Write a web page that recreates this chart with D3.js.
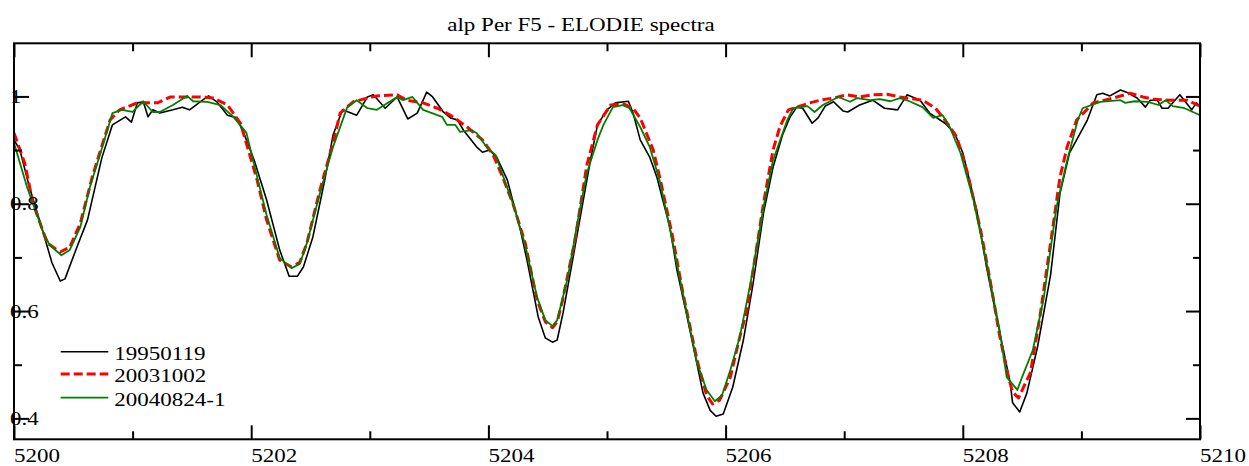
<!DOCTYPE html>
<html>
<head>
<meta charset="utf-8">
<script src="https://cdn.jsdelivr.net/npm/d3@7"></script>
<style>
  html, body { margin: 0; padding: 0; background: #fff; }
  svg { display: block; }
  text { font-family: "Liberation Serif", "Times New Roman", serif; font-size: 23px; fill: #000; }
</style>
</head>
<body>
<div id="chart"></div>
<script>
// Spectra: [wavelength (A), normalised flux]
const spec19950119 = [
  [5200.00,0.919],[5200.05,0.900],[5200.13,0.831],[5200.24,0.751],[5200.32,0.690],[5200.39,0.656],
  [5200.43,0.660],[5200.53,0.719],[5200.62,0.770],[5200.74,0.885],[5200.83,0.947],[5200.94,0.962],
  [5200.99,0.952],[5201.04,0.988],[5201.09,0.990],[5201.13,0.962],[5201.17,0.975],[5201.23,0.969],
  [5201.34,0.975],[5201.42,0.980],[5201.48,0.975],[5201.57,0.990],[5201.64,1.001],[5201.71,0.990],
  [5201.80,0.965],[5201.88,0.960],[5201.96,0.919],[5202.03,0.878],[5202.13,0.807],[5202.24,0.714],
  [5202.32,0.665],[5202.39,0.665],[5202.44,0.682],[5202.52,0.738],[5202.62,0.844],[5202.69,0.928],
  [5202.77,0.975],[5202.89,0.965],[5202.98,0.999],[5203.03,1.003],[5203.13,0.978],[5203.23,0.999],
  [5203.32,0.958],[5203.40,0.969],[5203.48,1.008],[5203.53,0.999],[5203.62,0.971],[5203.68,0.960],
  [5203.74,0.956],[5203.79,0.937],[5203.90,0.906],[5203.95,0.896],[5204.01,0.900],[5204.07,0.887],
  [5204.16,0.844],[5204.27,0.751],[5204.33,0.690],[5204.42,0.589],[5204.48,0.550],[5204.54,0.542],
  [5204.58,0.546],[5204.63,0.597],[5204.71,0.695],[5204.79,0.794],[5204.86,0.881],[5204.92,0.947],
  [5205.00,0.975],[5205.07,0.988],[5205.18,0.991],[5205.22,0.969],[5205.28,0.919],[5205.36,0.887],
  [5205.42,0.850],[5205.47,0.807],[5205.53,0.757],[5205.59,0.676],[5205.67,0.595],[5205.81,0.447],
  [5205.87,0.415],[5205.92,0.404],[5205.98,0.408],[5206.06,0.458],[5206.15,0.546],[5206.23,0.649],
  [5206.32,0.783],[5206.40,0.868],[5206.48,0.928],[5206.54,0.960],[5206.60,0.980],[5206.65,0.978],
  [5206.73,0.950],[5206.78,0.960],[5206.84,0.982],[5206.91,0.990],[5206.99,0.973],[5207.03,0.971],
  [5207.13,0.984],[5207.24,0.993],[5207.34,0.978],[5207.45,0.975],[5207.53,1.003],[5207.64,0.993],
  [5207.72,0.969],[5207.85,0.950],[5207.93,0.932],[5208.00,0.895],[5208.12,0.785],[5208.20,0.682],
  [5208.29,0.583],[5208.40,0.466],[5208.42,0.429],[5208.48,0.412],[5208.54,0.447],[5208.63,0.533],
  [5208.74,0.667],[5208.82,0.820],[5208.90,0.895],[5209.05,0.956],[5209.13,1.003],[5209.18,1.006],
  [5209.24,1.001],[5209.33,1.012],[5209.38,1.008],[5209.47,0.997],[5209.54,0.980],[5209.58,0.993],
  [5209.64,0.993],[5209.68,0.978],[5209.73,0.978],[5209.83,1.003],[5209.93,0.975],[5209.97,0.988],
  [5210.00,0.980]
];

const spec20031002 = [
  [5200.00,0.932],[5200.09,0.876],[5200.16,0.801],[5200.28,0.727],[5200.39,0.710],[5200.47,0.719],
  [5200.56,0.764],[5200.66,0.850],[5200.73,0.900],[5200.81,0.956],[5200.89,0.975],[5201.04,0.988],
  [5201.21,0.988],[5201.32,0.999],[5201.46,0.999],[5201.57,0.999],[5201.68,0.997],[5201.80,0.984],
  [5201.91,0.950],[5202.05,0.844],[5202.13,0.770],[5202.24,0.695],[5202.34,0.682],[5202.41,0.691],
  [5202.47,0.727],[5202.58,0.826],[5202.69,0.913],[5202.75,0.969],[5202.86,0.990],[5202.98,0.997],
  [5203.06,1.001],[5203.23,1.003],[5203.31,0.993],[5203.45,0.988],[5203.57,0.978],[5203.68,0.965],
  [5203.82,0.943],[5203.95,0.919],[5204.04,0.891],[5204.12,0.850],[5204.21,0.798],[5204.31,0.727],
  [5204.41,0.621],[5204.48,0.580],[5204.54,0.569],[5204.58,0.580],[5204.62,0.615],[5204.73,0.732],
  [5204.83,0.872],[5204.92,0.947],[5205.03,0.984],[5205.14,0.986],[5205.22,0.978],[5205.28,0.960],
  [5205.39,0.900],[5205.45,0.844],[5205.55,0.742],[5205.64,0.634],[5205.76,0.508],[5205.84,0.443],
  [5205.89,0.427],[5205.95,0.434],[5206.04,0.477],[5206.12,0.552],[5206.18,0.602],[5206.32,0.801],
  [5206.40,0.900],[5206.46,0.945],[5206.53,0.975],[5206.60,0.980],[5206.71,0.988],[5206.80,0.993],
  [5206.91,0.997],[5207.02,1.003],[5207.13,0.999],[5207.24,1.003],[5207.36,1.004],[5207.47,0.999],
  [5207.66,0.993],[5207.77,0.978],[5207.85,0.956],[5207.95,0.924],[5208.04,0.857],[5208.15,0.751],
  [5208.23,0.658],[5208.31,0.555],[5208.38,0.481],[5208.42,0.449],[5208.47,0.438],[5208.52,0.462],
  [5208.57,0.485],[5208.65,0.589],[5208.75,0.742],[5208.82,0.850],[5208.88,0.906],[5208.96,0.956],
  [5209.10,0.988],[5209.27,0.997],[5209.41,1.006],[5209.52,0.999],[5209.60,0.995],[5209.74,0.993],
  [5209.89,0.993],[5210.00,0.982]
];

const spec20040824 = [
  [5200.00,0.913],[5200.11,0.831],[5200.24,0.751],[5200.30,0.723],[5200.40,0.704],[5200.47,0.714],
  [5200.56,0.757],[5200.64,0.831],[5200.73,0.895],[5200.83,0.969],[5200.91,0.975],[5201.00,0.971],
  [5201.09,0.991],[5201.17,0.971],[5201.23,0.971],[5201.34,0.984],[5201.46,1.001],[5201.51,0.991],
  [5201.63,0.990],[5201.74,0.984],[5201.85,0.962],[5201.96,0.932],[5202.05,0.850],[5202.13,0.779],
  [5202.24,0.699],[5202.34,0.680],[5202.41,0.688],[5202.47,0.727],[5202.58,0.820],[5202.69,0.906],
  [5202.81,0.980],[5202.89,0.993],[5202.98,0.978],[5203.06,0.975],[5203.23,0.999],[5203.28,0.993],
  [5203.36,0.999],[5203.45,0.975],[5203.61,0.962],[5203.65,0.947],[5203.72,0.947],[5203.76,0.934],
  [5203.86,0.937],[5203.90,0.932],[5203.99,0.904],[5204.06,0.891],[5204.12,0.854],[5204.21,0.798],
  [5204.31,0.723],[5204.41,0.626],[5204.48,0.583],[5204.54,0.572],[5204.58,0.583],[5204.67,0.663],
  [5204.75,0.764],[5204.83,0.857],[5204.92,0.919],[5204.97,0.947],[5205.05,0.980],[5205.13,0.984],
  [5205.19,0.978],[5205.28,0.943],[5205.36,0.906],[5205.45,0.838],[5205.55,0.732],[5205.66,0.611],
  [5205.76,0.503],[5205.84,0.453],[5205.91,0.432],[5205.97,0.443],[5206.04,0.490],[5206.12,0.552],
  [5206.21,0.652],[5206.32,0.794],[5206.40,0.881],[5206.52,0.956],[5206.57,0.978],[5206.69,0.982],
  [5206.75,0.971],[5206.82,0.984],[5206.95,0.999],[5207.05,0.990],[5207.11,0.997],[5207.22,0.993],
  [5207.30,0.995],[5207.39,0.991],[5207.47,0.997],[5207.55,0.991],[5207.66,0.980],[5207.75,0.960],
  [5207.83,0.965],[5207.89,0.943],[5207.98,0.895],[5208.09,0.807],[5208.20,0.691],[5208.31,0.565],
  [5208.37,0.477],[5208.46,0.453],[5208.50,0.477],[5208.59,0.527],[5208.68,0.621],[5208.79,0.794],
  [5208.88,0.881],[5208.97,0.956],[5209.01,0.978],[5209.16,0.990],[5209.33,0.993],[5209.37,0.988],
  [5209.45,0.991],[5209.56,0.990],[5209.65,0.984],[5209.71,0.993],[5209.77,0.982],[5209.87,0.978],
  [5210.00,0.965]
];

const seriesNames = ["19950119", "20031002", "20040824-1"];
const xMajorTicks = [5200, 5202, 5204, 5206, 5208, 5210];
const xMinorTicks = [5201, 5203, 5205, 5207, 5209];
const yMajorTicks = [0.4, 0.6, 0.8, 1.0];
const yMinorTicks = [0.5, 0.7, 0.9];
const yTickLabels = ["0.4", "0.6", "0.8", "1"];
const title = "alp Per F5 - ELODIE spectra";

const width = 1249;
const height = 466;
const margin = { top: 43.3, right: 49, bottom: 26.7, left: 14 };
const textSquash = 0.86;

const styles = [
  { color: "#000000", width: 1.6, dash: null },
  { color: "#ff0000", width: 3, dash: "9,4" },
  { color: "#008000", width: 1.8, dash: null },
];

const svg = d3.select("#chart").append("svg")
  .attr("width", width)
  .attr("height", height);

const x = d3.scaleLinear()
  .domain([5200, 5210])
  .range([margin.left, width - margin.right]);
const y = d3.scaleLinear()
  .domain([0.361, 1.099])
  .range([height - margin.bottom, margin.top]);

function label(g, px, py, txt, anchor) {
  g.append("text")
    .attr("transform", `translate(${px},${py}) scale(1,${textSquash})`)
    .attr("text-anchor", anchor)
    .text(txt);
}

svg.append("clipPath").attr("id", "plot-clip")
  .append("rect")
  .attr("x", x.range()[0]).attr("y", y.range()[1])
  .attr("width", x.range()[1] - x.range()[0])
  .attr("height", y.range()[0] - y.range()[1]);

// Curves
const line = d3.line().x((d) => x(d[0])).y((d) => y(d[1]));
const curves = svg.append("g").attr("clip-path", "url(#plot-clip)");
[spec19950119, spec20031002, spec20040824].forEach((data, i) => {
  curves.append("path")
    .datum(data)
    .attr("fill", "none")
    .attr("stroke", styles[i].color)
    .attr("stroke-width", styles[i].width)
    .attr("stroke-dasharray", styles[i].dash)
    .attr("stroke-linejoin", "round")
    .attr("d", line);
});

// Ticks (all inward)
function ticks(axis, values, size, transform) {
  svg.append("g")
    .attr("transform", transform)
    .call(axis.tickValues(values).tickSize(-size).tickFormat(""))
    .call((g) => g.select(".domain").remove())
    .call((g) => g.selectAll(".tick line").attr("stroke", "#000").attr("stroke-width", 2));
}
const bottomY = y.range()[0], topY = y.range()[1];
const leftX = x.range()[0], rightX = x.range()[1];
ticks(d3.axisBottom(x), xMajorTicks, 14, `translate(0,${bottomY})`);
ticks(d3.axisBottom(x), xMinorTicks, 8, `translate(0,${bottomY})`);
ticks(d3.axisTop(x), xMajorTicks, 14, `translate(0,${topY})`);
ticks(d3.axisTop(x), xMinorTicks, 8, `translate(0,${topY})`);
ticks(d3.axisLeft(y), yMajorTicks, 15, `translate(${leftX},0)`);
ticks(d3.axisLeft(y), yMinorTicks, 8, `translate(${leftX},0)`);
ticks(d3.axisRight(y), yMajorTicks, 14, `translate(${rightX},0)`);
ticks(d3.axisRight(y), yMinorTicks, 7, `translate(${rightX},0)`);

// Frame
svg.append("rect")
  .attr("x", leftX).attr("y", topY)
  .attr("width", rightX - leftX).attr("height", bottomY - topY)
  .attr("fill", "none").attr("stroke", "#000").attr("stroke-width", 2);

// Tick labels
const labels = svg.append("g");
xMajorTicks.forEach((v) => label(labels, x(v), bottomY + 22.4, String(v), "start"));
yMajorTicks.forEach((v, i) => label(labels, leftX - 4, y(v) + 6.7, yTickLabels[i], "start"));

// Title
label(svg, 581, 31, title, "middle");

// Legend
const legend = svg.append("g");
const legendY = [351.7, 374, 397.7];
seriesNames.forEach((name, i) => {
  legend.append("line")
    .attr("x1", 60.7).attr("x2", 108.3)
    .attr("y1", legendY[i]).attr("y2", legendY[i])
    .attr("stroke", styles[i].color)
    .attr("stroke-width", styles[i].width)
    .attr("stroke-dasharray", styles[i].dash);
  label(legend, 114.3, legendY[i] + 8, name, "start");
});
</script>
</body>
</html>
